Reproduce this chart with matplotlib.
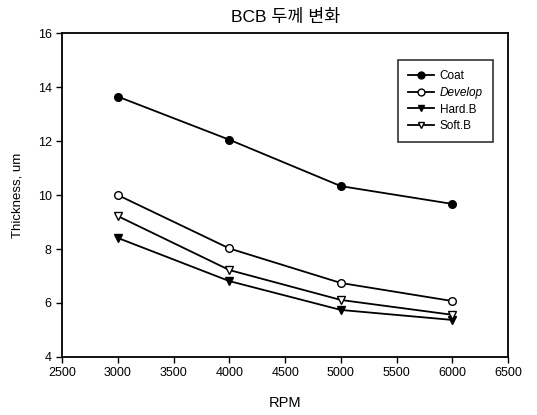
import matplotlib
matplotlib.use("Agg")
import matplotlib.pyplot as plt

rpm = [3000, 4000, 5000, 6000]
coat = [13.65, 12.05, 10.33, 9.67]
develop = [10.0, 8.02, 6.74, 6.07]
hard_b = [8.41, 6.81, 5.74, 5.37]
soft_b = [9.22, 7.22, 6.11, 5.56]
series_names = ["Coat", "Develop", "Hard.B", "Soft.B"]
x_ticks = [2500, 3000, 3500, 4000, 4500, 5000, 5500, 6000, 6500]
y_ticks = [4, 6, 8, 10, 12, 14, 16]

plt.rcParams['font.family'] = ['Liberation Sans', 'Noto Sans CJK KR', 'DejaVu Sans']

fig = plt.figure(figsize=(5.37, 4.15), dpi=100)
ax = fig.add_axes([0.1155, 0.14, 0.831, 0.78])

ax.plot(rpm, coat, '-o', color='black', mfc='black', ms=5.5, lw=1.3, label=series_names[0])
ax.plot(rpm, develop, '-o', color='black', mfc='white', ms=5.5, lw=1.3, label=series_names[1])
ax.plot(rpm, hard_b, '-v', color='black', mfc='black', ms=5.5, lw=1.3, label=series_names[2])
ax.plot(rpm, soft_b, '-v', color='black', mfc='white', ms=5.5, lw=1.3, label=series_names[3])

ax.set_xlim(2500, 6500)
ax.set_ylim(4, 16)
ax.set_xticks(x_ticks)
ax.set_yticks(y_ticks)
ax.tick_params(direction='out', length=4, width=1, labelsize=9, top=False, right=False)
for s in ax.spines.values():
    s.set_linewidth(1.3)

ax.set_title("BCB 두께 변화", fontsize=12.5, family=['Liberation Sans', 'Noto Sans CJK KR', 'DejaVu Sans'], pad=8)
ax.set_xlabel("RPM", fontsize=10.5, labelpad=12)
ax.set_ylabel("Thickness, um", fontsize=9.5, labelpad=10)

leg = ax.legend(loc='upper right', bbox_to_anchor=(0.978, 0.935), fontsize=8.5, frameon=True,
                fancybox=False, edgecolor='black', handlelength=2.2, borderpad=0.85,
                labelspacing=0.4, handletextpad=0.5, markerscale=0.9)
leg.get_frame().set_linewidth(1.2)
leg.get_texts()[1].set_style('italic')

fig.savefig("out.png", dpi=100)
